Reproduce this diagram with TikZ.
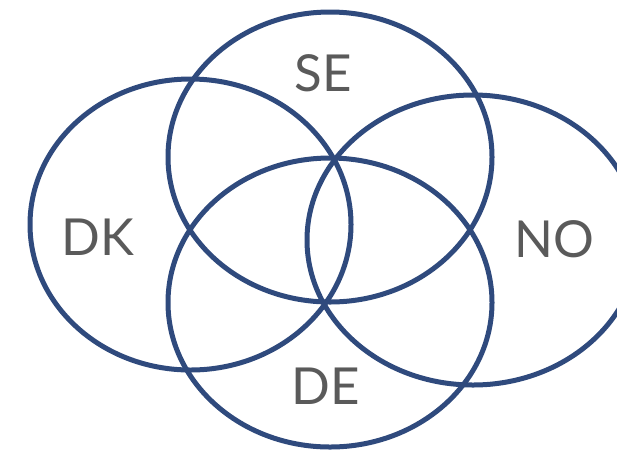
\documentclass[tikz,border=0pt]{standalone}
\usepackage{fontspec}
\setmainfont{Lato}
\definecolor{ringblue}{RGB}{47,74,125}
\definecolor{labelgray}{RGB}{90,90,90}
\begin{document}
\begin{tikzpicture}[x=1pt, y=-1pt,
  ring/.style={line width=5pt, ringblue},
  country/.style={labelgray, font=\fontsize{51}{60}\selectfont, inner sep=0pt}]
  \useasboundingbox (0,0) rectangle (617,451);

  % Country rings
  \draw[ring] (190.5,224.5) ellipse [x radius=160.5, y radius=145.5];
  \draw[ring] (330,157) ellipse [x radius=162, y radius=145];
  \draw[ring] (473,240) ellipse [x radius=166, y radius=145];
  \draw[ring] (330,302.5) ellipse [x radius=162, y radius=144.5];

  % Labels
  \node[country] (se) at (323,73.5) {SE};
  \node[country] (dk) at (98,237.5) {DK};
  \node[country] (no) at (554,239) {NO};
  \node[country] (de) at (326,386) {DE};
\end{tikzpicture}
\end{document}
